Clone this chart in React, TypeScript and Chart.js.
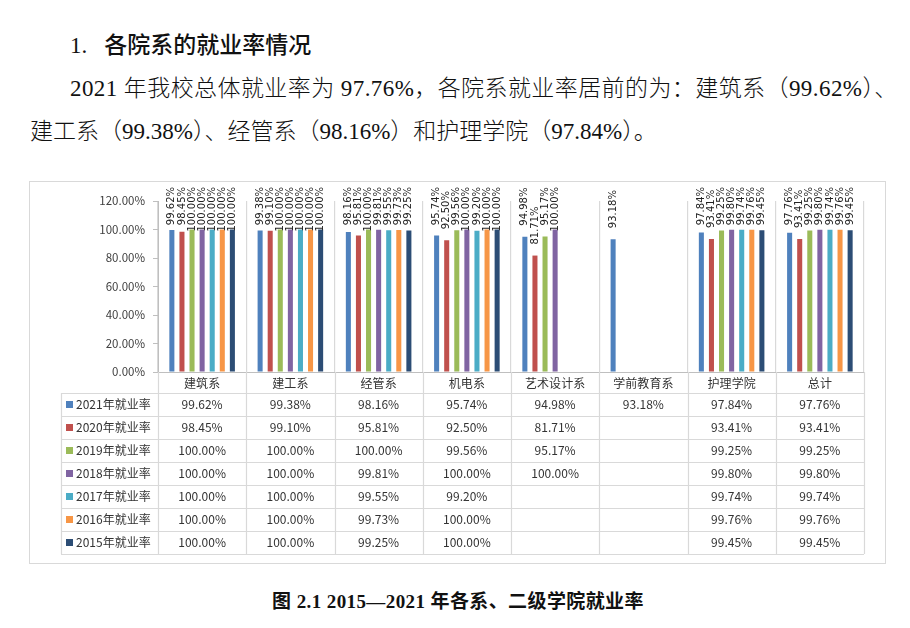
import { useEffect, useRef } from "react"
import { Chart, registerables } from "chart.js"

Chart.register(...registerables)

const categories = ["建筑系", "建工系", "经管系", "机电系", "艺术设计系", "学前教育系", "护理学院", "总计"]
const seriesLabels = ["2021年就业率", "2020年就业率", "2019年就业率", "2018年就业率", "2017年就业率", "2016年就业率", "2015年就业率"]
const rate2021 = [99.62, 99.38, 98.16, 95.74, 94.98, 93.18, 97.84, 97.76]
const rate2020 = [98.45, 99.1, 95.81, 92.5, 81.71, null, 93.41, 93.41]
const rate2019 = [100, 100, 100, 99.56, 95.17, null, 99.25, 99.25]
const rate2018 = [100, 100, 99.81, 100, 100, null, 99.8, 99.8]
const rate2017 = [100, 100, 99.55, 99.2, null, null, 99.74, 99.74]
const rate2016 = [100, 100, 99.73, 100, null, null, 99.76, 99.76]
const rate2015 = [100, 100, 99.25, 100, null, null, 99.45, 99.45]
const yTicks = [0, 20, 40, 60, 80, 100, 120]

const seriesValues = [rate2021, rate2020, rate2019, rate2018, rate2017, rate2016, rate2015]
const seriesColors = ["#4f81bd", "#c0504d", "#9bbb59", "#8064a2", "#4bacc6", "#f79646", "#2c4d75"]

const cjk = "'Noto Sans CJK SC', sans-serif"
const serif = "'Liberation Serif', 'Noto Sans CJK SC', serif"
const pct = (v: number) => v.toFixed(2) + "%"

// rotated value labels above each bar, pushed down when they would leave the frame
const barLabels = {
  id: "barLabels",
  afterDatasetsDraw(chart: any) {
    const { ctx } = chart
    ctx.save()
    ctx.font = "10px 'DejaVu Sans'"
    ctx.fillStyle = "#222"
    ctx.textAlign = "left"
    ctx.textBaseline = "middle"
    chart.data.datasets.forEach((ds: any, di: number) => {
      const meta = chart.getDatasetMeta(di)
      meta.data.forEach((bar: any, i: number) => {
        const v = ds.data[i]
        if (v == null) return
        const text = pct(v)
        const w = ctx.measureText(text).width
        const top = Math.max(5, bar.y - 11 - w)
        ctx.save()
        ctx.translate(bar.x, top + w)
        ctx.rotate(-Math.PI / 2)
        ctx.fillText(text, 0, 0)
        ctx.restore()
      })
    })
    ctx.restore()
  },
}

// category row and data table under the plot
const dataTable = {
  id: "dataTable",
  afterDraw(chart: any) {
    const { ctx, chartArea } = chart
    const x = chart.scales.x
    const labelTop = chartArea.bottom
    const rowH = 23
    const tableTop = labelTop + 21
    const tableBottom = tableTop + rowH * seriesLabels.length
    const legendLeft = 31
    const edge = (k: number) => x.getPixelForValue(k - 0.5)

    ctx.save()
    ctx.strokeStyle = "#d9d9d9"
    ctx.lineWidth = 1.2
    ctx.beginPath()
    for (let k = 0; k <= categories.length; k++) {
      const px = Math.round(edge(k)) + 0.5
      ctx.moveTo(px, labelTop)
      ctx.lineTo(px, tableBottom)
    }
    ctx.moveTo(legendLeft + 0.5, tableTop)
    ctx.lineTo(legendLeft + 0.5, tableBottom)
    for (let r = 0; r <= seriesLabels.length; r++) {
      const py = Math.round(tableTop + r * rowH) + 0.5
      ctx.moveTo(legendLeft, py)
      ctx.lineTo(chartArea.right, py)
    }
    ctx.stroke()

    ctx.fillStyle = "#333"
    ctx.textBaseline = "middle"
    ctx.textAlign = "center"
    ctx.font = "12px " + cjk
    categories.forEach((c, i) => {
      ctx.fillText(c, x.getPixelForValue(i), labelTop + 11)
    })

    seriesLabels.forEach((name, r) => {
      const cy = tableTop + r * rowH + rowH / 2
      ctx.fillStyle = seriesColors[r]
      ctx.fillRect(legendLeft + 5, cy - 3.5, 7, 7)
      ctx.fillStyle = "#333"
      ctx.textAlign = "left"
      ctx.fillText(name, legendLeft + 15, cy)
      ctx.textAlign = "center"
      seriesValues[r].forEach((v, i) => {
        if (v == null) return
        ctx.fillText(pct(v), x.getPixelForValue(i), cy)
      })
    })
    ctx.restore()
  },
}

export default function App() {
  const canvasRef = useRef<HTMLCanvasElement>(null)
  const chartRef = useRef<Chart | null>(null)

  useEffect(() => {
    if (!canvasRef.current) return
    if (chartRef.current) chartRef.current.destroy()

    chartRef.current = new Chart(canvasRef.current, {
      type: "bar",
      data: {
        labels: categories,
        datasets: seriesLabels.map((label, i) => ({
          label,
          data: seriesValues[i],
          backgroundColor: seriesColors[i],
          categoryPercentage: 0.8,
          barPercentage: 0.5,
        })),
      },
      options: {
        animation: false,
        responsive: true,
        maintainAspectRatio: false,
        layout: { padding: { left: 0, right: 21, top: 19, bottom: 191 } },
        plugins: {
          legend: { display: false },
          tooltip: { enabled: false },
        },
        scales: {
          x: {
            ticks: { display: false },
            grid: { offset: true, drawTicks: false, color: "#d9d9d9", lineWidth: 1.2 },
            border: { color: "#bfbfbf" },
            afterFit: (s: any) => {
              s.height = 0
            },
          },
          y: {
            min: 0,
            max: 120,
            afterBuildTicks: (s: any) => {
              s.ticks = yTicks.map((value) => ({ value }))
            },
            afterFit: (s: any) => {
              s.width = 128
            },
            ticks: {
              padding: 8,
              color: "#404040",
              font: { family: cjk, size: 11.5 },
              callback: (v: any) => pct(Number(v)),
            },
            grid: { drawOnChartArea: false, drawTicks: true, tickLength: 5, color: "#bfbfbf" },
            border: { color: "#bfbfbf" },
          },
        },
      },
      plugins: [barLabels, dataTable],
    })

    return () => {
      if (chartRef.current) {
        chartRef.current.destroy()
        chartRef.current = null
      }
    }
  }, [])

  return (
    <div style={{ position: "fixed", left: 0, top: 0, width: 910, height: 628, background: "#fff", overflow: "hidden", color: "#111" }}>
      <div style={{ position: "absolute", left: 70, top: 28, fontSize: 23, lineHeight: "30px", whiteSpace: "nowrap", fontFamily: serif }}>
        <span>1.</span>
        <span style={{ marginLeft: 17, fontFamily: cjk, fontWeight: 500 }}>各院系的就业率情况</span>
      </div>
      <div
        style={{
          position: "absolute",
          left: 70,
          top: 74,
          fontSize: 23,
          lineHeight: "30px",
          fontFamily: serif,
          fontWeight: 300,
          letterSpacing: 0.42,
          whiteSpace: "nowrap",
        }}
      >
        2021 年我校总体就业率为 97.76%，各院系就业率居前的为：建筑系（99.62%）、
      </div>
      <div style={{ position: "absolute", left: 30, top: 117, fontSize: 23, lineHeight: "30px", fontFamily: serif, fontWeight: 300, whiteSpace: "nowrap" }}>
        建工系（99.38%）、经管系（98.16%）和护理学院（97.84%）。
      </div>
      <div
        style={{
          position: "absolute",
          left: 29,
          top: 181,
          width: 857,
          height: 383,
          boxSizing: "border-box",
          border: "1px solid #d9d9d9",
        }}
      >
        <div style={{ position: "absolute", left: 0, top: 0, width: 855, height: 381 }}>
          <canvas ref={canvasRef} />
        </div>
      </div>
      <div
        style={{
          position: "absolute",
          left: 0,
          width: 916,
          top: 589,
          textAlign: "center",
          fontSize: 19,
          lineHeight: "26px",
          fontWeight: 700,
          fontFamily: serif,
          letterSpacing: 0.4,
          whiteSpace: "nowrap",
        }}
      >
        图 2.1 2015—2021 年各系、二级学院就业率
      </div>
    </div>
  )
}
